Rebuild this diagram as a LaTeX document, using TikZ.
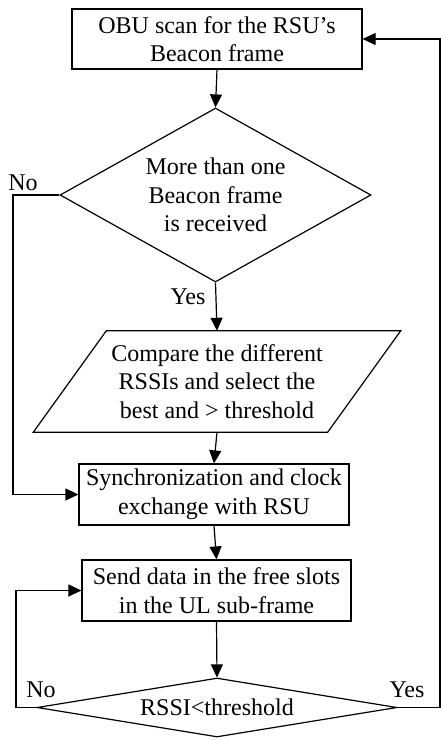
\documentclass[tikz,border=0pt]{standalone}
\usepackage{fontspec}
\setmainfont{Liberation Serif}
\usetikzlibrary{shapes.geometric,arrows.meta,calc}
\begin{document}
\begin{tikzpicture}[x=1pt,y=-1pt,
  every node/.style={font=\fontsize{24}{28.5}\selectfont, inner sep=0pt},
  ln/.style={line width=1.2pt, line join=miter},
  arr/.style={ln, -{Triangle[length=13pt,width=12pt]}},
  procbox/.style={draw, line width=1.2pt, align=center, rectangle},
  decide/.style={draw, line width=1.2pt, align=center, diamond}]
\useasboundingbox (0,0) rectangle (441,740);
\node[procbox, minimum width=290pt, minimum height=60pt] (obu) at (217,39) {OBU scan for the RSU’s\\Beacon frame};
\node[decide, aspect=1.79, minimum width=311pt, minimum height=174pt] (d1) at (215.5,195) {More than one\\Beacon frame\\is received};
\node[align=center, minimum width=294pt, minimum height=101pt] (cmp) at (217,381.5) {Compare the different\\RSSIs and select the\\best and > threshold};
\draw[ln] ([xshift=36.5pt]cmp.north west) -- ([xshift=36.5pt]cmp.north east) -- ([xshift=-36.5pt]cmp.south east) -- ([xshift=-36.5pt]cmp.south west) -- cycle;
\node[procbox, minimum width=270pt, minimum height=61pt] (sync) at (214,494.5) {Synchronization and clock\\exchange with RSU};
\node[procbox, minimum width=269pt, minimum height=61pt] (send) at (216.5,590.5) {Send data in the free slots\\in the UL sub-frame};
\node[decide, aspect=6.1, minimum width=360pt, minimum height=59pt] (d2) at (217,707.5) {RSSI<threshold};
\coordinate (rr) at (440,0);
\coordinate (ll) at (13,0);
\coordinate (ll2) at (16,0);
\draw[arr] (obu.south) -- (d1.north);
\draw[arr] (d1.south) -- (cmp.north);
\draw[arr] (cmp.south) -- (sync.north);
\draw[arr] (sync.south) -- (send.north);
\draw[arr] (send.south) -- (d2.north);
\draw[arr] (d1.west) -- (d1.west -| ll) |- (sync.west);
\draw[arr] (d2.west) -- (d2.west -| ll2) |- (send.west);
\draw[arr] (d2.east) -- (d2.east -| rr) |- (obu.east);
\node (no1) at (23,183) {No};
\node (yes1) at (188,297) {Yes};
\node (no2) at (41,690) {No};
\node (yes2) at (407,690) {Yes};
\end{tikzpicture}
\end{document}
